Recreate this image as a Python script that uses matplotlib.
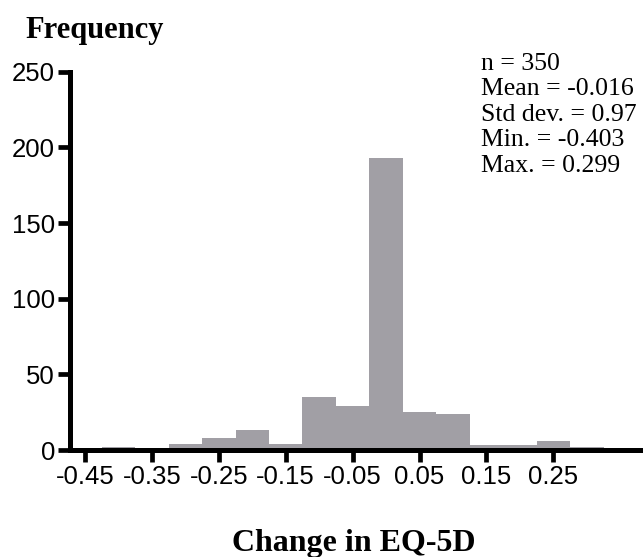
import numpy as np
import matplotlib
matplotlib.use("Agg")
import matplotlib.pyplot as plt

# histogram bins (centres) and counts
bin_centers = [-0.40, -0.35, -0.30, -0.25, -0.20, -0.15, -0.10, -0.05,
               0.00, 0.05, 0.10, 0.15, 0.20, 0.25, 0.30]
counts = [2, 0, 4, 8, 13, 4, 35, 29, 193, 25, 24, 3, 3, 6, 2]
bin_width = 0.05

x_ticks = [-0.45, -0.35, -0.25, -0.15, -0.05, 0.05, 0.15, 0.25]
x_tick_labels = ["-0.45", "-0.35", "-0.25", "-0.15", "-0.05", "0.05", "0.15", "0.25"]
y_ticks = [0, 50, 100, 150, 200, 250]

stats_lines = ["n = 350", "Mean = -0.016", "Std dev. = 0.97",
               "Min. = -0.403", "Max. = 0.299"]

W, H = 643, 557
fig = plt.figure(figsize=(W / 100, H / 100), dpi=100)

# axes placed in pixel terms (y axis at x~69.5, zero line at y~450, 250 at y~72)
left, bottom_px, top_px = 69.5, 450, 71.7
ax = fig.add_axes([left / W, 1 - bottom_px / H, (W - left) / W, (bottom_px - top_px) / H])

ax.bar(bin_centers, counts, width=bin_width, color="#a19fa5", edgecolor="none",
       align="center", zorder=1)

ax.set_xlim(-0.4732, 0.384)
ax.set_ylim(0, 250)

ax.set_xticks(x_ticks)
ax.set_xticklabels(x_tick_labels)
ax.set_yticks(y_ticks)

for s in ["top", "right"]:
    ax.spines[s].set_visible(False)
for s in ["left", "bottom"]:
    ax.spines[s].set_linewidth(3.6)
    ax.spines[s].set_zorder(3)
    ax.spines[s].set_capstyle("projecting")
ax.spines["left"].set_bounds(0, 250)

ax.tick_params(axis="both", direction="out", length=8.5, width=3.4,
               labelsize=18.5, pad=2)
for lab in ax.get_xticklabels() + ax.get_yticklabels():
    lab.set_family("Liberation Sans")

# titles are plain text on the figure, like the original
fig.text(25 / W, 1 - 38 / H, "Frequency", family="Liberation Serif",
         fontweight="bold", fontsize=22, ha="left", va="baseline")
fig.text(354 / W, 1 - 551 / H, "Change in EQ-5D", family="Liberation Serif",
         fontweight="bold", fontsize=23, ha="center", va="baseline")

fig.text(481 / W, 1 - 53 / H, "\n".join(stats_lines), family="Liberation Serif",
         fontsize=18.5, ha="left", va="top", linespacing=1.2)

fig.savefig("out.png", dpi=100)
